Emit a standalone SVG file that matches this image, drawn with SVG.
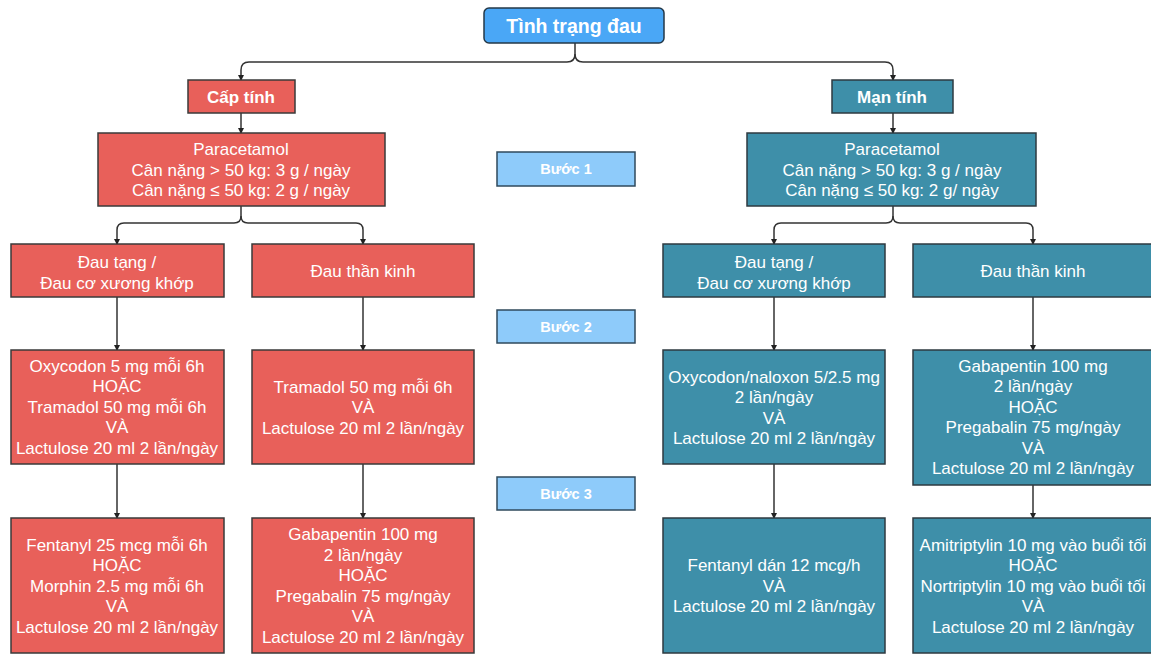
<svg xmlns="http://www.w3.org/2000/svg" width="1151" height="655" viewBox="0 0 1151 655">
<style>
.red{fill:#e8605a;stroke:#3a3a3a;stroke-width:1.5}
.teal{fill:#3e8fa9;stroke:#2e3a40;stroke-width:1.5}
.step{fill:#8ecbfa;stroke:#2f4a5c;stroke-width:1.5}
.top{fill:#4aa7f6;stroke:#243848;stroke-width:1.5}
text{font-family:"Liberation Sans",Arial,sans-serif;fill:#fff;text-anchor:middle}
.t{font-size:17px}
.b{font-weight:bold;font-size:17px}
.s{font-weight:bold;font-size:14.5px}
.c{fill:none;stroke:#333;stroke-width:1.5}
</style>
<defs>
<marker id="ah" markerWidth="6" markerHeight="6" refX="5" refY="3" orient="auto" markerUnits="userSpaceOnUse">
<path d="M0,0 L6,3 L0,6 Z" fill="#222"/>
</marker>
</defs>
<g id="connectors">
<path class="c" d="M575,43 V54 Q575,62 567,62 H249 Q241,62 241,70 V80" marker-end="url(#ah)"/>
<path class="c" d="M575,54 Q575,62 583,62 H885 Q893,62 893,70 V80" marker-end="url(#ah)"/>
<path class="c" d="M241,113 V133" marker-end="url(#ah)"/>
<path class="c" d="M893,113 V133" marker-end="url(#ah)"/>
<path class="c" d="M241,206 V216 Q241,223 234,223 H124 Q117,223 117,230 V244" marker-end="url(#ah)"/>
<path class="c" d="M241,216 Q241,223 248,223 H356 Q363,223 363,230 V244" marker-end="url(#ah)"/>
<path class="c" d="M893,206 V216 Q893,223 886,223 H781 Q774,223 774,230 V244" marker-end="url(#ah)"/>
<path class="c" d="M893,216 Q893,223 900,223 H1026 Q1033,223 1033,230 V244" marker-end="url(#ah)"/>
<path class="c" d="M117,297 V350" marker-end="url(#ah)"/>
<path class="c" d="M363,297 V350" marker-end="url(#ah)"/>
<path class="c" d="M774,297 V350" marker-end="url(#ah)"/>
<path class="c" d="M1033,297 V350" marker-end="url(#ah)"/>
<path class="c" d="M117,464 V518" marker-end="url(#ah)"/>
<path class="c" d="M363,464 V518" marker-end="url(#ah)"/>
<path class="c" d="M774,464 V518" marker-end="url(#ah)"/>
<path class="c" d="M1033,485 V518" marker-end="url(#ah)"/>
</g>
<g id="root">
<rect class="top" x="484" y="8" width="180" height="35" rx="5"/>
<text class="b" x="574" y="33" style="font-size:19.5px">Tình trạng đau</text>
</g>
<g id="acute">
<rect class="red" x="188" y="80" width="107" height="33"/>
<text class="b" x="241" y="103">Cấp tính</text>
</g>
<g id="chronic">
<rect class="teal" x="832" y="80" width="121" height="33"/>
<text class="b" x="892" y="103">Mạn tính</text>
</g>
<g id="step1">
<rect class="step" x="497" y="152" width="138" height="34"/>
<text class="s" x="566" y="174">Bước 1</text>
</g>
<g id="step2">
<rect class="step" x="497" y="310" width="138" height="33"/>
<text class="s" x="566" y="332">Bước 2</text>
</g>
<g id="step3">
<rect class="step" x="497" y="477" width="138" height="33"/>
<text class="s" x="566" y="499">Bước 3</text>
</g>
<g id="para-acute">
<rect class="red" x="98" y="133" width="287" height="73"/>
<text class="t" x="241" y="155">Paracetamol</text>
<text class="t" x="241" y="176">Cân nặng &gt; 50 kg: 3 g / ngày</text>
<text class="t" x="241" y="196">Cân nặng ≤ 50 kg: 2 g / ngày</text>
</g>
<g id="para-chronic">
<rect class="teal" x="747" y="133" width="289" height="73"/>
<text class="t" x="892" y="155">Paracetamol</text>
<text class="t" x="892" y="176">Cân nặng &gt; 50 kg: 3 g / ngày</text>
<text class="t" x="892" y="196">Cân nặng ≤ 50 kg: 2 g/ ngày</text>
</g>
<g id="acute-visceral">
<rect class="red" x="11" y="244" width="213" height="53"/>
<text class="t" x="117" y="268">Đau tạng /</text>
<text class="t" x="117" y="289">Đau cơ xương khớp</text>
</g>
<g id="acute-neuro">
<rect class="red" x="252" y="244" width="222" height="53"/>
<text class="t" x="363" y="277">Đau thần kinh</text>
</g>
<g id="chronic-visceral">
<rect class="teal" x="663" y="244" width="222" height="53"/>
<text class="t" x="774" y="268">Đau tạng /</text>
<text class="t" x="774" y="289">Đau cơ xương khớp</text>
</g>
<g id="chronic-neuro">
<rect class="teal" x="913" y="244" width="240" height="53"/>
<text class="t" x="1033" y="277">Đau thần kinh</text>
</g>
<g id="a-v-s2">
<rect class="red" x="11" y="350" width="213" height="114"/>
<text class="t" x="117" y="372">Oxycodon 5 mg mỗi 6h</text>
<text class="t" x="117" y="392">HOẶC</text>
<text class="t" x="117" y="413">Tramadol 50 mg mỗi 6h</text>
<text class="t" x="117" y="433">VÀ</text>
<text class="t" x="117" y="454">Lactulose 20 ml 2 lần/ngày</text>
</g>
<g id="a-n-s2">
<rect class="red" x="252" y="350" width="222" height="114"/>
<text class="t" x="363" y="393">Tramadol 50 mg mỗi 6h</text>
<text class="t" x="363" y="413">VÀ</text>
<text class="t" x="363" y="434">Lactulose 20 ml 2 lần/ngày</text>
</g>
<g id="c-v-s2">
<rect class="teal" x="663" y="350" width="222" height="114"/>
<text class="t" x="774" y="383">Oxycodon/naloxon 5/2.5 mg</text>
<text class="t" x="774" y="403">2 lần/ngày</text>
<text class="t" x="774" y="424">VÀ</text>
<text class="t" x="774" y="444">Lactulose 20 ml 2 lần/ngày</text>
</g>
<g id="c-n-s2">
<rect class="teal" x="913" y="350" width="240" height="135"/>
<text class="t" x="1033" y="372">Gabapentin 100 mg</text>
<text class="t" x="1033" y="392">2 lần/ngày</text>
<text class="t" x="1033" y="413">HOẶC</text>
<text class="t" x="1033" y="433">Pregabalin 75 mg/ngày</text>
<text class="t" x="1033" y="454">VÀ</text>
<text class="t" x="1033" y="474">Lactulose 20 ml 2 lần/ngày</text>
</g>
<g id="a-v-s3">
<rect class="red" x="11" y="518" width="213" height="135"/>
<text class="t" x="117" y="551">Fentanyl 25 mcg mỗi 6h</text>
<text class="t" x="117" y="571">HOẶC</text>
<text class="t" x="117" y="592">Morphin 2.5 mg mỗi 6h</text>
<text class="t" x="117" y="612">VÀ</text>
<text class="t" x="117" y="633">Lactulose 20 ml 2 lần/ngày</text>
</g>
<g id="a-n-s3">
<rect class="red" x="252" y="518" width="222" height="135"/>
<text class="t" x="363" y="540">Gabapentin 100 mg</text>
<text class="t" x="363" y="561">2 lần/ngày</text>
<text class="t" x="363" y="581">HOẶC</text>
<text class="t" x="363" y="602">Pregabalin 75 mg/ngày</text>
<text class="t" x="363" y="622">VÀ</text>
<text class="t" x="363" y="643">Lactulose 20 ml 2 lần/ngày</text>
</g>
<g id="c-v-s3">
<rect class="teal" x="663" y="518" width="222" height="135"/>
<text class="t" x="774" y="571">Fentanyl dán 12 mcg/h</text>
<text class="t" x="774" y="592">VÀ</text>
<text class="t" x="774" y="612">Lactulose 20 ml 2 lần/ngày</text>
</g>
<g id="c-n-s3">
<rect class="teal" x="913" y="518" width="240" height="135"/>
<text class="t" x="1033" y="551">Amitriptylin 10 mg vào buổi tối</text>
<text class="t" x="1033" y="571">HOẶC</text>
<text class="t" x="1033" y="592">Nortriptylin 10 mg vào buổi tối</text>
<text class="t" x="1033" y="612">VÀ</text>
<text class="t" x="1033" y="633">Lactulose 20 ml 2 lần/ngày</text>
</g>
</svg>
